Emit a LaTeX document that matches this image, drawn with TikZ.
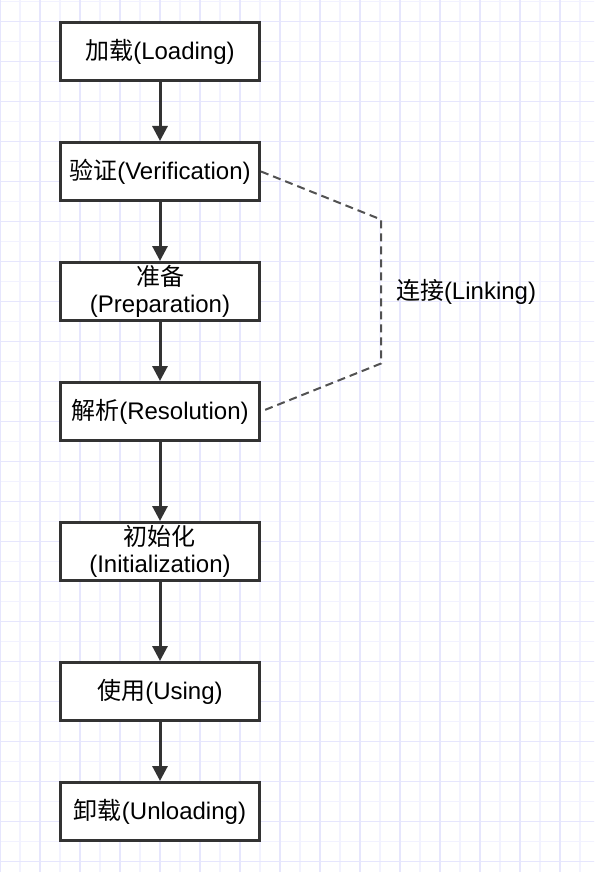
\documentclass[tikz,border=0pt]{standalone}
\usepackage{fontspec}
\setmainfont{Liberation Sans}
\newfontfamily\cjk{Noto Sans CJK SC}
\usetikzlibrary{arrows.meta}
\definecolor{gridminor}{RGB}{242,242,255}
\definecolor{gridmajor}{RGB}{230,230,253}
\definecolor{boxline}{RGB}{51,51,51}

\begin{document}
\begin{tikzpicture}[node distance=60pt]
    \tikzstyle{stage} = [draw=boxline, line width=1.5pt, fill=white, rectangle, minimum width=99.5pt, minimum height=29pt, inner sep=0pt, align=center, text centered, font=\fontsize{12}{13.5}\selectfont]
    \tikzstyle{arrow} = [draw=boxline, line width=1.5pt, ->, >={Triangle[length=7.5pt,width=7.5pt]}]
    \tikzstyle{link} = [draw=boxline!85, line width=1pt, dash pattern=on 4pt off 2.5pt]
    \useasboundingbox (-80pt,25.75pt) rectangle (217pt,-410.25pt);
    % grid paper
    \begin{scope}[shift={(0,-4.9pt)}]
        \clip (-80pt,30.65pt) rectangle (217pt,-405.35pt);
        \fill[white] (-90pt,40pt) rectangle (230pt,-420pt);
        \draw[gridminor, line width=0.6pt, step=10pt] (-90pt,-420pt) grid (230pt,40pt);
        \draw[gridmajor, line width=0.6pt, step=20pt] (-90pt,-420pt) grid (230pt,40pt);
    \end{scope}

    \node (load) [stage] {{\cjk 加载}(Loading)};
    \node (verify) [stage, below of=load] {{\cjk 验证}(Verification)};
    \node (prepare) [stage, below of=verify] {{\cjk 准备}\\(Preparation)};
    \node (resolve) [stage, below of=prepare] {{\cjk 解析}(Resolution)};
    \node (init) [stage, below of=resolve, node distance=70pt] {{\cjk 初始化}\\(Initialization)};
    \node (use) [stage, below of=init, node distance=70pt] {{\cjk 使用}(Using)};
    \node (unload) [stage, below of=use] {{\cjk 卸载}(Unloading)};

    \draw [arrow] (load) -- (verify);
    \draw [arrow] (verify) -- (prepare);
    \draw [arrow] (prepare) -- (resolve);
    \draw [arrow] (resolve) -- (init);
    \draw [arrow] (init) -- (use);
    \draw [arrow] (use) -- (unload);

    % linking bracket
    \coordinate (linktop) at ([xshift=60pt,yshift=-24pt]verify.east);
    \coordinate (linkbot) at ([xshift=60pt,yshift=24pt]resolve.east);
    \draw [link] (verify.east) -- (linktop) -- node (linking) [right=7pt, inner sep=0pt, font=\fontsize{12}{13.5}\selectfont] {{\cjk 连接}(Linking)} (linkbot) -- (resolve.east);
\end{tikzpicture}
\end{document}
